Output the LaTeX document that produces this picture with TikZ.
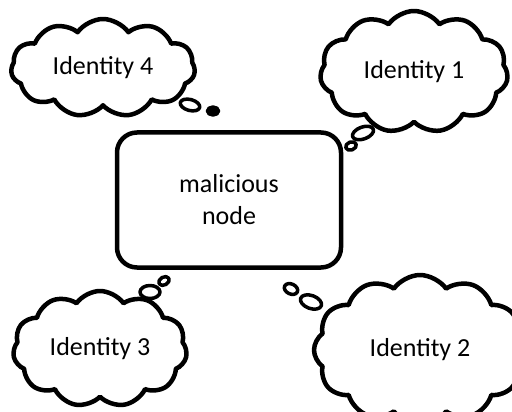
\documentclass[tikz,border=0pt]{standalone}
\usepackage{fontspec}
\setmainfont{Carlito}
\usetikzlibrary{shapes.symbols,shapes.geometric}
\tikzset{
 sketch/.style={draw,line width=4.5pt,line join=round,fill=white},
 thought/.style={sketch,cloud,cloud puffs=11,cloud puff arc=110,
   cloud ignores aspect,inner sep=0pt,
   font=\fontsize{26}{31}\selectfont},
 hostbox/.style={sketch,rectangle,rounded corners=20pt,align=center,
   minimum width=224pt,minimum height=135pt,
   font=\fontsize{26}{32}\selectfont},
 bubble/.style={sketch,ellipse,inner sep=0pt,line width=3.5pt}}

\begin{document}
\begin{tikzpicture}[x=1pt,y=-1pt]
  \useasboundingbox (0,0) rectangle (512,412);
  \node[hostbox] (mal) at (229,200) {malicious\\node};
  \node[thought,minimum width=184pt,minimum height=98pt] (id4) at (103,68) {Identity 4};
  \node[thought,minimum width=188pt,minimum height=122pt] (id1) at (414,72) {Identity 1};
  \node[thought,minimum width=174pt,minimum height=116pt] (id3) at (100,349) {Identity 3};
  \node[thought,cloud puffs=12,minimum width=212pt,minimum height=150pt] (id2) at (420,350) {Identity 2};
  \node[bubble,minimum width=20pt,minimum height=11pt,rotate=-15] (t4a) at (190,105) {};
  \node[bubble,minimum width=11pt,minimum height=8pt,fill=black] (t4b) at (213,111) {};
  \node[bubble,minimum width=22pt,minimum height=12pt,rotate=20] (t1a) at (363,133) {};
  \node[bubble,minimum width=11pt,minimum height=8pt,rotate=20] (t1b) at (351,146) {};
  \node[bubble,minimum width=20pt,minimum height=13pt] (t3a) at (150,292) {};
  \node[bubble,minimum width=11pt,minimum height=8pt,rotate=30] (t3b) at (164,281) {};
  \node[bubble,minimum width=22pt,minimum height=13pt,rotate=-20] (t2a) at (311,302) {};
  \node[bubble,minimum width=14pt,minimum height=10pt,rotate=-25] (t2b) at (291,289) {};
\end{tikzpicture}
\end{document}
